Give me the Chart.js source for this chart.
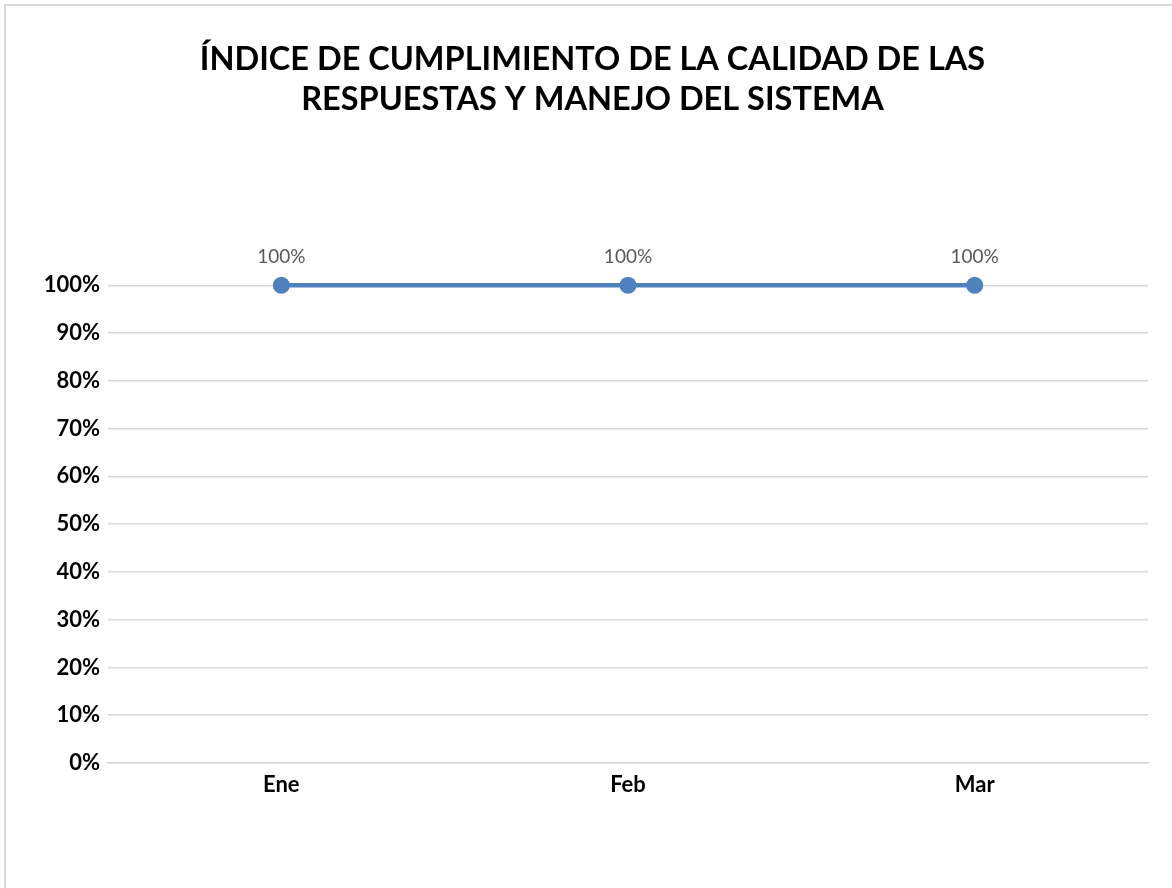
<!DOCTYPE html>
<html>
<head>
<meta charset="utf-8">
<script src="https://cdn.jsdelivr.net/npm/chart.js@4"></script>
<style>
  html, body { margin: 0; padding: 0; background: #ffffff; overflow: hidden; }
  #frame { position: absolute; left: 4px; top: 4px; width: 1200px; height: 920px; border: 2px solid #d9d9d9; box-sizing: border-box; }
  #wrap { position: absolute; left: 0; top: 0; width: 1172px; height: 888px; }
</style>
</head>
<body>
<div id="frame"></div>
<div id="wrap"><canvas id="c" width="1172" height="888"></canvas></div>
<script>
const titleLines = ['ÍNDICE DE CUMPLIMIENTO DE LA CALIDAD DE LAS', 'RESPUESTAS Y MANEJO DEL SISTEMA'];
const categories = ['Ene', 'Feb', 'Mar'];
const values = [1, 1, 1];
const yTickStep = 0.1;

const pct = v => Math.round(v * 100) + '%';

const dataLabels = {
  id: 'dataLabels',
  afterDatasetsDraw(chart) {
    const ctx = chart.ctx;
    const meta = chart.getDatasetMeta(0);
    ctx.save();
    ctx.font = '19px Lato';
    ctx.fillStyle = '#595959';
    ctx.textAlign = 'center';
    ctx.textBaseline = 'middle';
    meta.data.forEach((pt, i) => {
      ctx.fillText(pct(values[i]), pt.x, pt.y - 28);
    });
    ctx.restore();
  }
};

new Chart(document.getElementById('c'), {
  type: 'line',
  data: {
    labels: categories,
    datasets: [{
      data: values,
      clip: false,
      borderColor: '#4f81bd',
      backgroundColor: '#4f81bd',
      borderWidth: 4.5,
      pointRadius: 6.3,
      pointHoverRadius: 6.3,
      pointBackgroundColor: '#4f81bd',
      pointBorderColor: '#4f81bd',
      tension: 0
    }]
  },
  options: {
    responsive: false,
    animation: false,
    events: [],
    layout: { padding: { left: 37, right: 24, top: 0, bottom: 0 } },
    plugins: {
      legend: { display: false },
      tooltip: { enabled: false },
      title: {
        display: true,
        text: titleLines,
        color: '#000000',
        font: { family: 'Lato', size: 32.5, weight: 'bold', lineHeight: 1.22 },
        padding: { top: 40, bottom: 166 }
      }
    },
    scales: {
      x: {
        offset: true,
        grid: { display: false, drawTicks: false },
        border: { display: true, color: '#d9d9d9', width: 1.5 },
        ticks: { color: '#000000', font: { family: 'Lato', size: 22, weight: 'bold' }, padding: 9 },
        afterFit(scale) { scale.height = 125; }
      },
      y: {
        min: 0,
        max: 1,
        ticks: {
          stepSize: yTickStep,
          color: '#000000',
          font: { family: 'Lato', size: 22, weight: 'bold' },
          padding: 8,
          callback: v => pct(v)
        },
        grid: { color: '#d9d9d9', lineWidth: 1.5, drawTicks: false },
        border: { display: false },
        afterFit(scale) { scale.width = 71; }
      }
    }
  },
  plugins: [dataLabels]
});
</script>
</body>
</html>
